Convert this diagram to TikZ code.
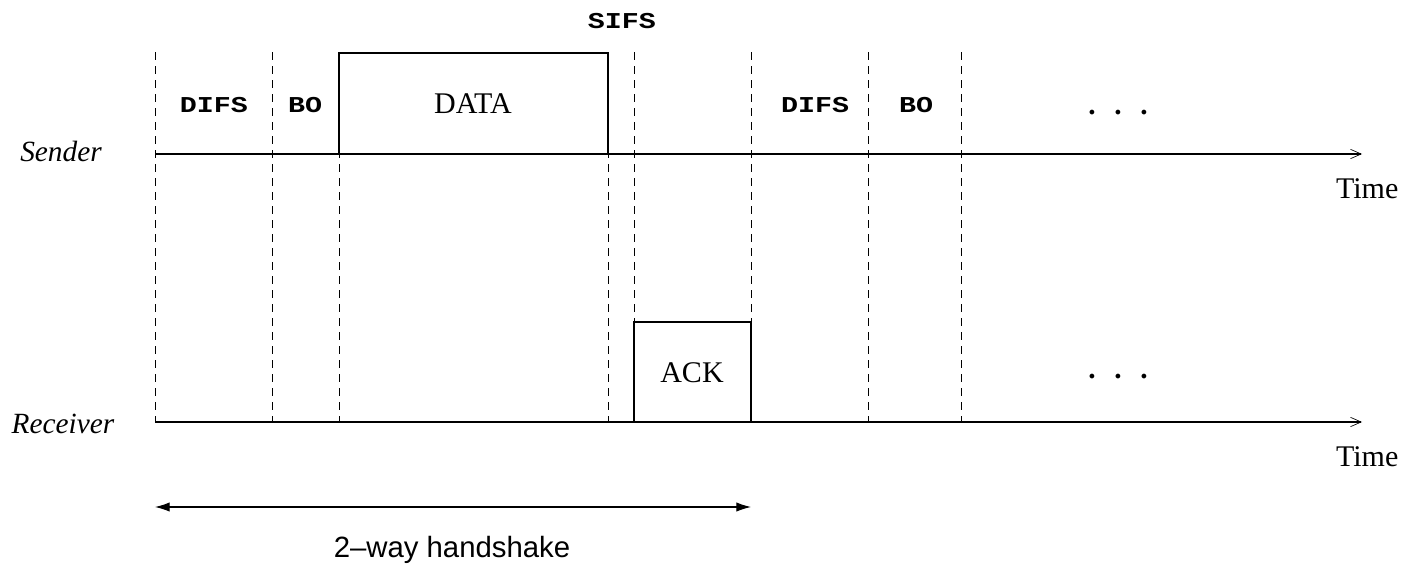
\documentclass[tikz,border=0pt]{standalone}
\usepackage{fontspec}
\setmainfont{Liberation Serif}
\setsansfont{Liberation Sans}
\newfontfamily\slotfont[FakeStretch=1.25]{Liberation Mono}
\usetikzlibrary{arrows.meta}

\begin{document}
\begin{tikzpicture}[x=0.75pt,y=-0.75pt,
    label/.style={anchor=base, font=\fontsize{22.5}{26}\selectfont},
    actor/.style={anchor=base, font=\itshape\fontsize{22}{26}\selectfont},
    slot/.style={anchor=base, font=\slotfont\bfseries\fontsize{17}{20}\selectfont},
    more/.style={anchor=base, font=\bfseries\fontsize{22}{26}\selectfont},
    timeaxis/.style={line width=0.8pt, -{Straight Barb[length=8pt,width=7pt,line width=0.5pt]}},
    guide/.style={line width=0.5pt, dash pattern=on 6pt off 4.5pt},
    frame/.style={line width=0.8pt}]
  \useasboundingbox (0,0) rectangle (1404,564);

  % Slot boundaries (dashed)
  \foreach \x in {155,272,339,608,634,751,868,961}
    \draw[guide] (\x,52) -- (\x,422);

  % Sender time axis
  \coordinate (s0) at (155,154);
  \coordinate (s1) at (1362,154);
  \draw[timeaxis] (s0) -- (s1);
  \node[actor] (snd) at (61,161) {Sender};
  \node[label, anchor=base east] (t1) at (1403,198) {Time};

  % Receiver time axis
  \coordinate (r0) at (155,422);
  \coordinate (r1) at (1362,422);
  \draw[timeaxis] (r0) -- (r1);
  \node[actor] (rcv) at (63,433) {Receiver};
  \node[label, anchor=base east] (t2) at (1403,466) {Time};

  % DATA frame on the sender
  \draw[frame, fill=white] (339,154) rectangle (608,53);
  \node[label] (data) at (473,113) {DATA};

  % ACK frame on the receiver
  \draw[frame, fill=white] (634,422) rectangle (751,322);
  \node[label] (ack) at (692,382) {ACK};

  % Interval labels
  \node[slot] (difs1) at (214,112) {DIFS};
  \node[slot] (bo1) at (305,112) {BO};
  \node[slot] (sifs) at (622,28) {SIFS};
  \node[slot] (difs2) at (815,112) {DIFS};
  \node[slot] (bo2) at (916,112) {BO};
  \node[more] (more1) at (1118,114) {.\hspace{14pt}.\hspace{14pt}.};
  \node[more] (more2) at (1118,378) {.\hspace{14pt}.\hspace{14pt}.};

  % Handshake span
  \coordinate (h0) at (155,507);
  \coordinate (h1) at (751,507);
  \draw[line width=0.8pt, {Latex[length=11pt,width=7pt]}-{Latex[length=11pt,width=7pt]}] (h0) -- (h1);
  \node[anchor=base, font=\sffamily\fontsize{22}{26}\selectfont] (hs) at (452,557) {2--way handshake};
\end{tikzpicture}
\end{document}
